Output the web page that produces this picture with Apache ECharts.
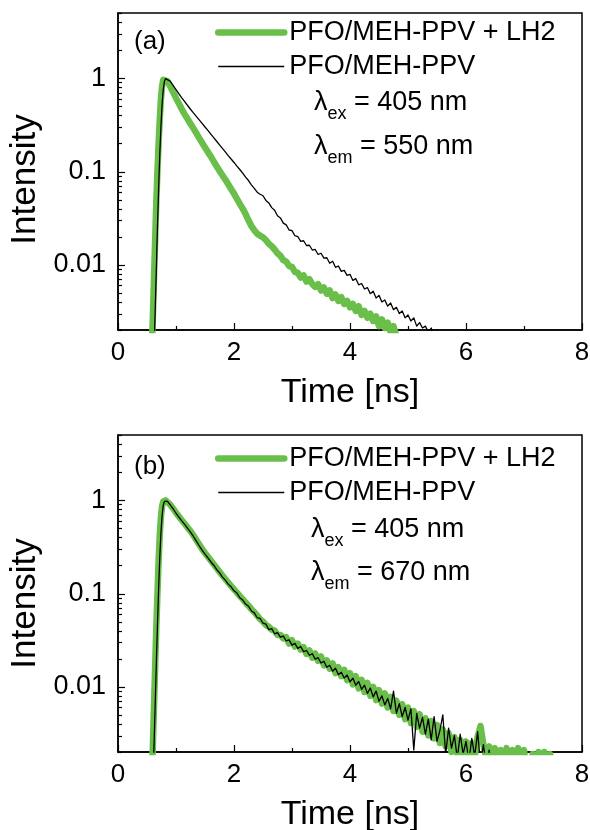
<!DOCTYPE html>
<html>
<head>
<meta charset="utf-8">
<script src="https://cdn.jsdelivr.net/npm/echarts@6/dist/echarts.min.js"></script>
<style>
html,body{margin:0;padding:0;background:#fff;}
#chart{width:590px;height:830px;}
</style>
</head>
<body>
<div id="chart"></div>
<script>
// ---------- data ----------
const nameLH2 = 'PFO/MEH-PPV + LH2';
const nameRef = 'PFO/MEH-PPV';

const xTickValues = [0, 2, 4, 6, 8];
const yTickLabels = [0.01, 0.1, 1];
const yMinorTicks = [0.002,0.003,0.004,0.005,0.006,0.007,0.008,0.009,
  0.02,0.03,0.04,0.05,0.06,0.07,0.08,0.09,
  0.2,0.3,0.4,0.5,0.6,0.7,0.8,0.9,2,3,4,5];

const tailStart = 0.85, tailStep = 0.05;

// Panel (a): lambda_em = 550 nm
const riseTimesGreenA = [0.58,0.60,0.62,0.64,0.66,0.68,0.70,0.72,0.74,0.76,0.78,0.80];
const riseGreenA = [0.0012,0.0026,0.007,0.018,0.046,0.1,0.2,0.36,0.6,0.82,0.96,1.0];
const tailGreenA = [0.93,0.82,0.71,0.61,0.535,0.465,0.41,0.365,0.325,0.29,
  0.258,0.228,0.203,0.181,0.162,0.145,0.128,0.114,0.102,0.091,
  0.082,0.073,0.065,0.058,0.051,0.045,0.040,0.035,0.030,0.026,
  0.0235,0.0215,0.0205,0.0197,0.0184,0.0168,0.0158,0.0146,0.0133,0.0125,
  0.0112,0.0108,0.0097,0.0095,0.0084,0.0082,0.0073,0.0077,0.0066,0.0070,
  0.0062,0.0058,0.0062,0.0053,0.0057,0.0049,0.0053,0.0044,0.0048,0.0041,
  0.0045,0.0038,0.0041,0.0035,0.0038,0.0032,0.0036,0.0029,0.0032,0.0027,
  0.0030,0.0025,0.0028,0.0022,0.0026,0.0021,0.0024,0.0019,0.0022,0.0017];

const riseTimesBlackA = [0.62,0.64,0.66,0.68,0.70,0.72,0.74,0.76,0.78,0.80,0.82];
const riseBlackA = [0.0012,0.003,0.0085,0.025,0.065,0.15,0.3,0.52,0.75,0.92,0.99];
const tailBlackA = [0.995,0.93,0.84,0.755,0.68,0.615,0.56,0.51,0.465,0.425,
  0.39,0.357,0.328,0.30,0.276,0.252,0.231,0.211,0.193,0.177,
  0.162,0.148,0.136,0.125,0.114,0.105,0.096,0.087,0.080,0.072,
  0.066,0.060,0.057,0.055,0.049,0.046,0.041,0.0385,0.0335,0.0318,
  0.028,0.0268,0.0236,0.0232,0.0205,0.0201,0.0178,0.0181,0.0161,0.0162,
  0.0144,0.0146,0.0129,0.0133,0.0118,0.0119,0.0104,0.0109,0.0094,0.0097,
  0.0085,0.0087,0.0077,0.0079,0.0068,0.0071,0.0061,0.0063,0.0055,0.0057,
  0.0049,0.0052,0.0044,0.0047,0.0040,0.0042,0.0036,0.0039,0.0033,0.0035,
  0.0030,0.0032,0.0027,0.0029,0.0025,0.0027,0.0022,0.0024,0.0021,0.0022,
  0.0019,0.0021,0.0017,0.0020,0.0015];

// Panel (b): lambda_em = 670 nm
const riseTimesGreenB = [0.58,0.60,0.62,0.64,0.66,0.68,0.70,0.72,0.74,0.76,0.78,0.80,0.82];
const riseGreenB = [0.001,0.0022,0.006,0.016,0.042,0.1,0.22,0.42,0.66,0.86,0.97,1.0,0.995];
const tailGreenB = [0.975,0.895,0.815,0.735,0.67,0.61,0.56,0.51,0.465,0.42,
  0.375,0.335,0.30,0.272,0.248,0.226,0.206,0.188,0.171,0.156,
  0.143,0.131,0.12,0.111,0.102,0.094,0.087,0.080,0.074,0.068,
  0.063,0.058,0.053,0.050,0.046,0.044,0.041,0.040,0.036,0.036,
  0.033,0.034,0.029,0.0315,0.0270,0.029,0.0250,0.0265,0.0225,0.0245,
  0.0205,0.0228,0.0190,0.0212,0.0170,0.0192,0.0156,0.0178,0.0140,0.0162,
  0.0130,0.0152,0.0118,0.0140,0.0106,0.0130,0.0096,0.0119,0.0088,0.0110,
  0.0080,0.0100,0.0072,0.0092,0.0066,0.0085,0.0060,0.0078,0.0055,0.0071,
  0.0050,0.0065,0.0045,0.0060,0.0041,0.0055,0.0037,0.0051,0.0033,0.0046,
  0.0030,0.0043,0.0028,0.0039,0.0025,0.0035,0.0023,0.0032,0.0020,0.0029,
  0.0019,0.0027,0.0018,0.0026,0.0017,0.0025,0.0018,0.0029,0.0038,0.0024,
  0.0017,0.0023,0.0016,0.0022,0.0015,0.0021,0.0014,0.0022,0.0015,0.0021,
  0.0013,0.0022,0.0014,0.0021,0.0011,0.0012,0.0019,0.0012,0.0020,0.0011,
  0.0020,0.0011,0.0019,0.0010];

const riseTimesBlackB = [0.60,0.62,0.64,0.66,0.68,0.70,0.72,0.74,0.76,0.78,0.80,0.82];
const riseBlackB = [0.001,0.0022,0.006,0.017,0.045,0.11,0.24,0.44,0.68,0.88,0.97,1.0];
const tailBlackB = [0.98,0.89,0.81,0.725,0.66,0.60,0.55,0.50,0.455,0.41,
  0.365,0.325,0.292,0.265,0.241,0.219,0.201,0.181,0.167,0.150,
  0.139,0.126,0.118,0.107,0.101,0.090,0.085,0.077,0.073,0.065,
  0.062,0.055,0.054,0.048,0.047,0.041,0.042,0.037,0.038,0.034,
  0.035,0.031,0.0318,0.028,0.0292,0.0258,0.027,0.0238,0.0245,0.0218,
  0.0226,0.0198,0.0205,0.018,0.0188,0.0162,0.0170,0.0147,0.0158,0.0135,
  0.0143,0.0124,0.0134,0.0113,0.0124,0.0104,0.0114,0.0094,0.0104,0.0085,
  0.0097,0.0078,0.0090,0.0070,0.0080,0.0064,0.0075,0.0058,0.0090,0.0052,
  0.0066,0.0048,0.0060,0.0044,0.0058,0.0021,0.0052,0.0036,0.0047,0.0031,
  0.0045,0.0027,0.0048,0.0026,0.0034,0.0050,0.0019,0.0036,0.0022,0.0030,
  0.0017,0.0031,0.0019,0.0026,0.0016,0.0028,0.0018,0.0033,0.0015,0.0024,
  0.0014,0.0021,0.0012];

// ---------- build ----------
function build(riseT, riseV, tailV) {
  const out = riseT.map((t, i) => [t, riseV[i]]);
  tailV.forEach((v, i) => out.push([+(tailStart + i * tailStep).toFixed(2), v]));
  return out;
}

const FONT = 'Liberation Sans, Arial, Helvetica, sans-serif';
const GREEN = '#6abf4b';
const gridTops = [13, 435];

function xAxes(g, gap) {
  return {
    type: 'value', gridIndex: g, min: 0, max: 8, interval: 2,
    axisLine: { show: true, lineStyle: { color: '#000', width: 1.5 } },
    axisTick: { show: true, inside: true, length: 7, lineStyle: { color: '#000', width: 1.2 } },
    minorTick: { show: true, splitNumber: 2, length: 4, lineStyle: { color: '#000', width: 1.2 } },
    splitLine: { show: false }, minorSplitLine: { show: false },
    axisLabel: { margin: 10, fontSize: 26, color: '#000', fontFamily: FONT,
      formatter: v => xTickValues.indexOf(v) >= 0 ? String(v) : '' },
    name: 'Time [ns]', nameLocation: 'middle', nameGap: gap,
    nameTextStyle: { fontSize: 34, color: '#000', fontFamily: FONT }
  };
}
function yAxis(g, shift) {
  return {
    type: 'log', logBase: 10, gridIndex: g, min: 0.002, max: 5, position: 'left',
    axisLine: { show: true, lineStyle: { color: '#000', width: 1.5 } },
    axisTick: { show: false },
    axisLabel: { show: true, customValues: yTickLabels, margin: 12, fontSize: 27, color: '#000', fontFamily: FONT,
      formatter: v => String(+(+v).toPrecision(3)) },
    splitLine: { show: false },
    name: 'Intensity', nameLocation: 'middle', nameGap: 72,
    nameTextStyle: { fontSize: 35, color: '#000', fontFamily: FONT, padding: [0, shift, 0, 0] }
  };
}

// tick marks on the log axis, positioned through the axis scale
function tickSeries(xi, yi, values, len) {
  return {
    type: 'custom', xAxisIndex: xi, yAxisIndex: yi, silent: true, clip: false, z: 10,
    animation: false,
    data: values.map(v => [0, v]),
    renderItem: (params, api) => {
      const p = api.coord([0, api.value(1)]);
      const y = Math.round(p[1]) + 0.5;
      return { type: 'line', shape: { x1: p[0], y1: y, x2: p[0] + len, y2: y },
        style: { stroke: '#000', lineWidth: 1.2 } };
    }
  };
}

function legendFor(top) {
  return {
    left: 215, top: top, padding: 0, orient: 'vertical', itemWidth: 66, itemHeight: 14, itemGap: 7,
    selectedMode: false,
    itemStyle: { opacity: 0, borderWidth: 0 },
    textStyle: { fontSize: 27, color: '#000', fontFamily: FONT },
    data: [
      { name: nameLH2, lineStyle: { width: 6.5, cap: 'round', color: GREEN } },
      { name: nameRef, lineStyle: { width: 1.5, color: '#000' } }
    ]
  };
}

function lambdaText(x, y, sub, rest) {
  return {
    type: 'text', x: x, y: y, z: 100,
    style: {
      text: '{l|λ}{s|' + sub + '}{t| = ' + rest + '}',
      verticalAlign: 'middle', align: 'left',
      rich: {
        l: { fontSize: 27, fontFamily: FONT, fill: '#000', color: '#000', lineHeight: 40, verticalAlign: 'middle' },
        s: { fontSize: 18, fontFamily: FONT, fill: '#000', color: '#000', lineHeight: 18, verticalAlign: 'bottom' },
        t: { fontSize: 27, fontFamily: FONT, fill: '#000', color: '#000', lineHeight: 40, verticalAlign: 'middle' }
      }
    }
  };
}

function lineSeries(name, data, xi, yi, green) {
  return {
    type: 'line', name: name, xAxisIndex: xi, yAxisIndex: yi, data: data,
    showSymbol: false, symbol: 'none', smooth: false, animation: false,
    clip: true, z: green ? 2 : 3,
    lineStyle: green ? { color: GREEN, width: 6.5, cap: 'round', join: 'round' }
                     : { color: '#000', width: 1.3, join: 'round' },
    itemStyle: { color: green ? GREEN : '#000' }
  };
}

const option = {
  backgroundColor: '#fff',
  animation: false,
  grid: gridTops.map(t => ({ left: 118, top: t, width: 464, height: 317, show: true,
    borderColor: '#000', borderWidth: 1.5, backgroundColor: 'transparent',
    containLabel: false, outerBoundsMode: 'none' })),
  xAxis: [xAxes(0, 46), xAxes(1, 46)],
  yAxis: [yAxis(0, 16), yAxis(1, 20)],
  legend: [legendFor(19), legendFor(445)],
  graphic: [
    { type: 'text', x: 134, y: 42, style: { text: '(a)', font: '26px ' + FONT, fill: '#000', verticalAlign: 'middle' } },
    { type: 'text', x: 134, y: 467, style: { text: '(b)', font: '26px ' + FONT, fill: '#000', verticalAlign: 'middle' } },
    lambdaText(314, 103, 'ex', '405 nm'),
    lambdaText(314, 147, 'em', '550 nm'),
    lambdaText(311, 530, 'ex', '405 nm'),
    lambdaText(311, 573, 'em', '670 nm')
  ],
  series: [
    lineSeries(nameLH2, build(riseTimesGreenA, riseGreenA, tailGreenA), 0, 0, true),
    lineSeries(nameRef, build(riseTimesBlackA, riseBlackA, tailBlackA), 0, 0, false),
    lineSeries(nameLH2, build(riseTimesGreenB, riseGreenB, tailGreenB), 1, 1, true),
    lineSeries(nameRef, build(riseTimesBlackB, riseBlackB, tailBlackB), 1, 1, false),
    tickSeries(0, 0, yTickLabels, 7),
    tickSeries(0, 0, yMinorTicks, 4),
    tickSeries(1, 1, yTickLabels, 7),
    tickSeries(1, 1, yMinorTicks, 4)
  ]
};

const chart = echarts.init(document.getElementById('chart'), null, { renderer: 'canvas' });
chart.setOption(option);
</script>
</body>
</html>
